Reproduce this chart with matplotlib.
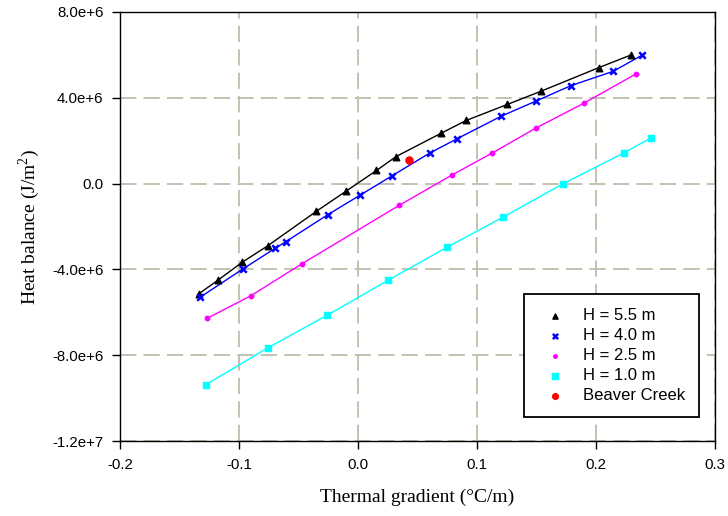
import matplotlib.pyplot as plt
from matplotlib.ticker import FuncFormatter

# 读出的数据点
x_55 = [-0.134, -0.118, -0.0975, -0.076, -0.035, -0.010, 0.0155, 0.032, 0.070,
        0.0909, 0.1256, 0.1537, 0.2023, 0.2294]
y_55 = [-5.14e6, -4.51e6, -3.67e6, -2.90e6, -1.29e6, -0.35e6, 0.61e6, 1.26e6,
        2.35e6, 2.94e6, 3.69e6, 4.30e6, 5.40e6, 5.99e6]

x_40 = [-0.1326, -0.0969, -0.0698, -0.0608, -0.0255, 0.002, 0.0288, 0.0602,
        0.0833, 0.12, 0.1494, 0.1788, 0.2145, 0.2387]
y_40 = [-5.29e6, -3.98e6, -3.02e6, -2.71e6, -1.45e6, -0.53e6, 0.37e6, 1.42e6,
        2.09e6, 3.13e6, 3.84e6, 4.56e6, 5.23e6, 5.98e6]

x_25 = [-0.1266, -0.0902, -0.0473, 0.0347, 0.079, 0.113, 0.150, 0.1897, 0.234]
y_25 = [-6.27e6, -5.23e6, -3.74e6, -1.01e6, 0.40e6, 1.43e6, 2.60e6, 3.74e6, 5.12e6]

x_10 = [-0.128, -0.0754, -0.0258, 0.0251, 0.075, 0.1217, 0.1726, 0.2235, 0.2463]
y_10 = [-9.37e6, -7.64e6, -6.13e6, -4.51e6, -2.96e6, -1.57e6, 0.0, 1.43e6, 2.13e6]

x_bc = [0.043]
y_bc = [1.09e6]

x_ticks = [-0.2, -0.1, 0.0, 0.1, 0.2, 0.3]
y_ticks = [-1.2e7, -8.0e6, -4.0e6, 0.0, 4.0e6, 8.0e6]

plt.rcParams['mathtext.fontset'] = 'custom'
plt.rcParams['mathtext.rm'] = 'Liberation Serif'

fig = plt.figure(figsize=(7.28, 5.16), dpi=100)
ax = fig.add_axes([0.165, 0.145, 0.817, 0.832])

grid_color = '#bdbdaa'
ax.grid(True, color=grid_color, linestyle=(0, (9, 4)), linewidth=1.3)
ax.set_axisbelow(True)

# 线
ax.plot(x_55, y_55, color='black', lw=1.0)
ax.plot(x_40, y_40, color='#0000ff', lw=1.0)
ax.plot(x_25, y_25, color='#ff00ff', lw=1.0)
ax.plot(x_10, y_10, color='#00ffff', lw=1.0)

# 点
ax.scatter(x_55, y_55, marker='^', s=22, color='black', label='H = 5.5 m', zorder=3)
ax.scatter(x_40, y_40, marker='x', s=22, color='#0000ff', linewidths=1.8,
           label='H = 4.0 m', zorder=3)
ax.scatter(x_25, y_25, marker='o', s=10, color='#ff00ff', label='H = 2.5 m', zorder=3)
ax.scatter(x_10, y_10, marker='s', s=22, color='#00ffff', label='H = 1.0 m', zorder=3)
ax.scatter(x_bc, y_bc, marker='o', s=26, color='red', label='Beaver Creek', zorder=3)

ax.set_xlim(-0.2, 0.3)
ax.set_ylim(-1.2e7, 8.0e6)
ax.set_xticks(x_ticks)
ax.set_yticks(y_ticks)


def yfmt(v, pos):
    if v == 0:
        return '0.0'
    s = '%.1e' % v
    m, e = s.split('e')
    return m + 'e' + e[0] + str(int(e[1:]))


ax.yaxis.set_major_formatter(FuncFormatter(yfmt))
ax.xaxis.set_major_formatter(FuncFormatter(lambda v, p: '%.1f' % v))

for lab in ax.get_xticklabels() + ax.get_yticklabels():
    lab.set_fontfamily('Liberation Sans')
    lab.set_fontsize(10.8)
ax.tick_params(direction='out', length=6, width=1.0, colors='black', pad=6)

for sp in ax.spines.values():
    sp.set_color('black')
    sp.set_linewidth(1.0)

ax.set_xlabel('Thermal gradient (°C/m)', fontfamily='Liberation Serif', fontsize=14,
              labelpad=12)
ax.set_ylabel('Heat balance (J/m$^2$)', fontfamily='Liberation Serif', fontsize=14,
              labelpad=7)

leg = ax.legend(loc='lower right', bbox_to_anchor=(0.973, 0.056), borderaxespad=0,
                prop={'family': 'Liberation Sans', 'size': 12},
                fancybox=False, edgecolor='black', framealpha=1,
                handletextpad=0.68, borderpad=0.85, labelspacing=0.3,
                handlelength=2.0, scatterpoints=1, markerscale=0.8)
leg.get_frame().set_linewidth(1.3)

fig.savefig('out.png', dpi=100)
